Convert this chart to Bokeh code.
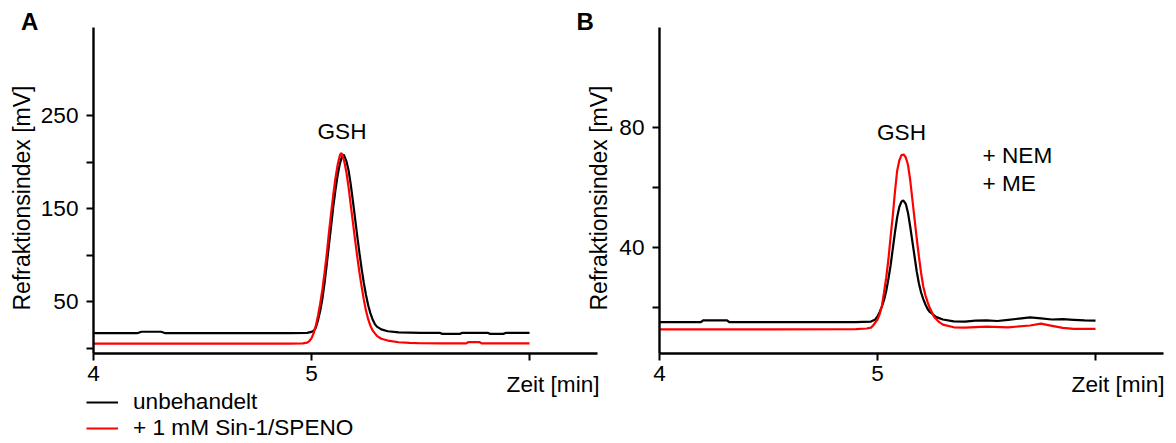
from bokeh.plotting import figure
from bokeh.models import Range1d, FixedTicker, Label, Legend, LegendItem, LinearAxis
from bokeh.embed import file_html
from bokeh.resources import INLINE

FONT = "Liberation Sans"
FS = "22.6px"

# ---------------- data ----------------
series_labels = ["unbehandelt", "+ 1 mM Sin-1/SPENO"]
x_ticks = [4, 5, 6]
a_y_ticks = [0, 50, 100, 150, 200, 250]
a_y_labelled = [50, 150, 250]
b_y_ticks = [20, 40, 60, 80]
b_y_labelled = [40, 80]

# Panel A - unbehandelt (black)
a_t_ctrl = [4.00, 4.20, 4.22, 4.31, 4.33, 4.50, 4.70, 4.90, 4.98, 5.00, 5.01, 5.02, 5.03,
            5.04, 5.05, 5.06, 5.07, 5.08, 5.09, 5.10, 5.11, 5.12, 5.13, 5.14, 5.148, 5.16,
            5.17, 5.18, 5.19, 5.20, 5.21, 5.22, 5.23, 5.24, 5.25, 5.26, 5.27, 5.28, 5.29,
            5.30, 5.32, 5.35, 5.40, 5.50, 5.59, 5.60, 5.68, 5.69, 5.81, 5.82, 5.88, 5.89, 6.00]
a_v_ctrl = [15.9, 15.9, 17.5, 17.5, 15.9, 15.9, 15.9, 15.9, 16.2, 17.3, 18.5, 22, 30,
            40, 53, 70, 90, 111, 131, 152, 170, 186, 198, 206, 208, 201,
            191, 176, 158, 139, 120, 102, 85, 70, 57, 46, 37.5, 31, 26,
            23, 20, 18, 16.8, 16.2, 16.2, 15.2, 15.2, 16.2, 16.2, 15.2, 15.2, 16.2, 16.2]

# Panel A - + 1 mM Sin-1/SPENO (red)
a_t_sin = [4.00, 4.50, 4.90, 4.96, 4.98, 4.99, 5.00, 5.01, 5.02, 5.03, 5.04, 5.05, 5.06,
           5.07, 5.08, 5.09, 5.10, 5.11, 5.12, 5.13, 5.135, 5.14, 5.15, 5.16, 5.17, 5.18,
           5.19, 5.20, 5.21, 5.22, 5.23, 5.24, 5.25, 5.26, 5.27, 5.28, 5.30, 5.32, 5.35,
           5.40, 5.45, 5.50, 5.60, 5.71, 5.72, 5.77, 5.78, 5.90, 6.00]
a_v_sin = [4.8, 4.8, 4.8, 5.0, 5.8, 7.5, 10.5, 16, 24, 35, 48, 63, 81,
           101, 124, 145, 165, 183, 197, 207, 209.5, 208.5, 201, 189, 173, 154,
           135, 116, 98, 81, 66, 52, 40, 31, 24, 19, 13, 10, 8,
           6.2, 5.5, 5.1, 5.0, 5.0, 6.4, 6.4, 5.0, 5.0, 5.0]

# Panel B - unbehandelt (black)
b_t_ctrl = [4.00, 4.19, 4.20, 4.31, 4.32, 4.60, 4.90, 4.97, 4.99, 5.00, 5.01, 5.02, 5.03,
            5.04, 5.05, 5.06, 5.07, 5.08, 5.09, 5.10, 5.11, 5.118, 5.13, 5.14, 5.15, 5.16,
            5.17, 5.18, 5.19, 5.20, 5.21, 5.22, 5.23, 5.24, 5.27, 5.30, 5.35, 5.40, 5.45,
            5.50, 5.55, 5.60, 5.65, 5.70, 5.75, 5.80, 5.85, 5.90, 5.95, 6.00]
b_v_ctrl = [15.1, 15.1, 15.7, 15.7, 15.1, 15.1, 15.1, 15.3, 16, 17, 18.5, 20.3, 22.5,
            25.5, 29.5, 34, 39.5, 45, 50, 53.5, 55.3, 55.7, 54.5, 51.5, 47, 42,
            37, 32, 28, 25, 22.8, 21, 19.5, 18.5, 16.8, 16, 15.4, 15.3, 15.6,
            15.7, 15.5, 15.9, 16.3, 16.7, 16.4, 16.0, 16.1, 15.9, 15.7, 15.6]

# Panel B - + 1 mM Sin-1/SPENO (red)
b_t_sin = [4.00, 4.50, 4.90, 4.95, 4.97, 4.98, 4.99, 5.00, 5.01, 5.02, 5.03, 5.04, 5.05,
           5.06, 5.07, 5.08, 5.09, 5.10, 5.11, 5.12, 5.13, 5.14, 5.15, 5.16, 5.17, 5.18,
           5.19, 5.20, 5.21, 5.22, 5.23, 5.24, 5.25, 5.26, 5.28, 5.30, 5.35, 5.40, 5.50,
           5.60, 5.70, 5.75, 5.80, 5.85, 5.90, 6.00]
b_v_sin = [12.7, 12.7, 12.8, 13.0, 13.3, 14.0, 15.0, 16, 17.8, 20.5, 25, 30, 36,
           43.5, 50.5, 58.5, 65.5, 69, 70.8, 71, 70, 67.5, 62.5, 56, 49.5, 43,
           37, 31.5, 27, 24, 21.8, 19.8, 18.3, 16.8, 15.3, 14.3, 13.4, 13.3, 13.6,
           13.4, 14.0, 14.6, 13.9, 13.2, 12.9, 12.9]

BLACK = "#000000"
RED = "#ff0000"

W, H = 1176, 443

# Both panels share one canvas; each panel has its own pair of ranges.
p = figure(width=W, height=H, output_backend="svg", toolbar_location=None,
           x_range=Range1d(3.57339, 8.96789), y_range=Range1d(-102.688, 373.656),
           min_border=0, min_border_left=0, min_border_right=0,
           min_border_top=0, min_border_bottom=0)
p.extra_x_ranges = {"b": Range1d(0.97706, 6.37156)}
p.extra_y_ranges = {"b": Range1d(-25.333, 122.333)}
p.xgrid.visible = False
p.ygrid.visible = False
p.outline_line_color = None
p.background_fill_color = "white"
p.border_fill_color = "white"


def style_axis(ax, ticks, labelled, standoff):
    ax.ticker = FixedTicker(ticks=ticks)
    ax.major_label_overrides = {t: "" for t in ticks if t not in labelled}
    ax.axis_line_width = 2.4
    ax.axis_line_color = BLACK
    ax.major_tick_line_width = 2
    ax.major_tick_line_color = BLACK
    ax.major_tick_out = 7
    ax.major_tick_in = 0
    ax.minor_tick_line_color = None
    ax.major_label_text_font = FONT
    ax.major_label_text_font_size = FS
    ax.major_label_text_color = BLACK
    ax.major_label_standoff = standoff


# Panel A axes (the figure's own axes, pinned at the panel's origin)
xa = p.xaxis[0]
xa.fixed_location = -5.91
xa.bounds = (4, 6.312)
style_axis(xa, x_ticks, [4, 5], 6)
ya = p.yaxis[0]
ya.fixed_location = 4
ya.bounds = (-5.91, 344.6)
style_axis(ya, a_y_ticks, a_y_labelled, 8)

# Panel B axes
xb = LinearAxis(x_range_name="b", y_range_name="b", fixed_location=4.667, bounds=(4, 6.312))
style_axis(xb, x_ticks, [4, 5], 6)
p.add_layout(xb, "below")
yb = LinearAxis(x_range_name="b", y_range_name="b", fixed_location=4, bounds=(4.667, 113.33))
style_axis(yb, b_y_ticks, b_y_labelled, 8)
p.add_layout(yb, "left")

# Curves
r_ctrl = p.line(a_t_ctrl, a_v_ctrl, line_color=BLACK, line_width=2.2)
r_sin = p.line(a_t_sin, a_v_sin, line_color=RED, line_width=2.2)
p.line(b_t_ctrl, b_v_ctrl, line_color=BLACK, line_width=2.2, x_range_name="b", y_range_name="b")
p.line(b_t_sin, b_v_sin, line_color=RED, line_width=2.2, x_range_name="b", y_range_name="b")

# Legend under panel A
lg = Legend(items=[LegendItem(label=series_labels[0], renderers=[r_ctrl]),
                   LegendItem(label=series_labels[1], renderers=[r_sin])],
            location=(86, 2), orientation="vertical")
lg.border_line_color = None
lg.background_fill_alpha = 0
lg.padding = 0
lg.margin = 0
lg.spacing = 0
lg.glyph_width = 32
lg.glyph_height = 24
lg.label_height = 24
lg.label_standoff = 15
lg.label_text_font = FONT
lg.label_text_font_size = FS
lg.label_text_color = BLACK
p.add_layout(lg)


def screen_text(t, x, y, **kw):
    kw.setdefault("text_font", FONT)
    kw.setdefault("text_font_size", FS)
    kw.setdefault("text_color", BLACK)
    kw.setdefault("text_baseline", "alphabetic")
    p.add_layout(Label(x=x, y=H - y, x_units="screen", y_units="screen", text=t, **kw))


def data_text(t, x, y, rng=None, **kw):
    extra = {}
    if rng:
        extra = dict(x_range_name=rng, y_range_name=rng)
    p.add_layout(Label(x=x, y=y, text=t, text_font=FONT, text_font_size=FS, text_color=BLACK,
                       text_baseline="alphabetic", **extra, **kw))


# panel letters
screen_text("A", 20.5, 20.5, text_font_style="bold", text_font_size="24px")
screen_text("B", 576, 20.5, text_font_style="bold", text_font_size="24px")
# axis titles
screen_text("Refraktionsindex [mV]", 21.5, 197.5, angle=90, angle_units="deg",
            text_align="center", text_font_size="23px")
screen_text("Refraktionsindex [mV]", 598, 197.5, angle=90, angle_units="deg",
            text_align="center", text_font_size="23px")
screen_text("Zeit [min]", 599, 384, text_align="right")
screen_text("Zeit [min]", 1164, 384, text_align="right")
# peak annotations
data_text("GSH", 5.14, 232.8, text_align="center")
data_text("GSH", 5.11, 78.3, rng="b", text_align="center")
data_text("+ NEM", 5.482, 70.7, rng="b", text_align="left")
data_text("+ ME", 5.482, 61.3, rng="b", text_align="left")

open("out.html", "w").write(file_html(p, INLINE))
